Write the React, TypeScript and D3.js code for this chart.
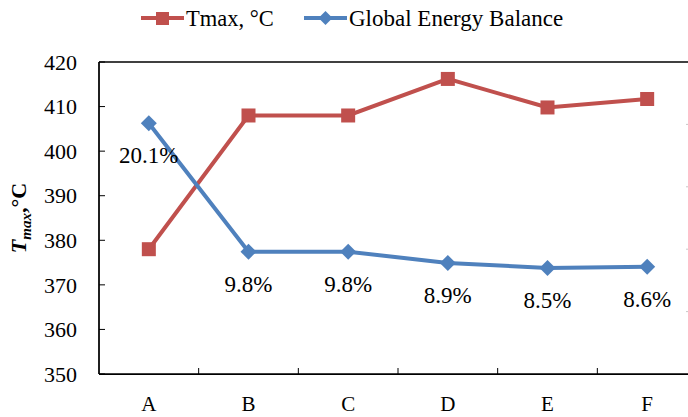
import React from "react";
import * as d3 from "d3";

// Cases and measured values
const categories = ["A", "B", "C", "D", "E", "F"];
const tmaxValues = [378, 408, 408, 416.2, 409.8, 411.7];
const energyBalance = [20.1, 9.8, 9.8, 8.9, 8.5, 8.6];
const energyLabels = ["20.1%", "9.8%", "9.8%", "8.9%", "8.5%", "8.6%"];
const leftTicks = [350, 360, 370, 380, 390, 400, 410, 420];
const rightTicks = [5, 10, 15, 20];

const W = 688;
const H = 417;
const margin = { left: 99, right: 697, top: 62, bottom: 374 };

const RED = "#C0504D";
const BLUE = "#4F81BD";
const FONT = "'Liberation Serif', 'Times New Roman', serif";

export default function App() {
  const x = d3
    .scaleBand<string>()
    .domain(categories)
    .range([margin.left, margin.right]);
  const cx = (c: string) => (x(c) as number) + x.bandwidth() / 2;
  const y = d3.scaleLinear().domain([350, 420]).range([margin.bottom, margin.top]);
  const y2 = d3.scaleLinear().domain([0, 25]).range([margin.bottom, margin.top]);

  const redLine = d3
    .line<number>()
    .x((_, i) => cx(categories[i]))
    .y((d) => y(d));
  const blueLine = d3
    .line<number>()
    .x((_, i) => cx(categories[i]))
    .y((d) => y2(d));

  const diamond = (px: number, py: number, r: number) =>
    `M${px},${py - r}L${px + r},${py}L${px},${py + r}L${px - r},${py}Z`;

  const boundaries = categories.slice(1).map((c) => x(c) as number);

  return (
    <svg
      width={W}
      height={H}
      style={{ position: "absolute", left: 0, top: 0, background: "#fff" }}
      fontFamily={FONT}
    >
      <rect width={W} height={H} fill="#fff" />

      {/* legend */}
      <g>
        <line x1={141} x2={184} y1={18} y2={18} stroke={RED} strokeWidth={4} />
        <rect x={156} y={12} width={13} height={13} fill={RED} />
        <text x={186} y={26} fontSize={22.5} fill="#000">
          Tmax, °C
        </text>
        <line x1={304} x2={347} y1={18} y2={18} stroke={BLUE} strokeWidth={4} />
        <path d={diamond(325.5, 18, 7)} fill={BLUE} />
        <text x={349} y={26} fontSize={23} fill="#000">
          Global Energy Balance
        </text>
      </g>

      {/* plot frame */}
      <line x1={margin.left} x2={margin.right} y1={margin.top} y2={margin.top} stroke="#000" strokeWidth={1.5} />
      <line x1={margin.left} x2={margin.right} y1={margin.bottom} y2={margin.bottom} stroke="#000" strokeWidth={1.75} />
      <line x1={margin.left} x2={margin.left} y1={margin.top} y2={margin.bottom} stroke="#000" strokeWidth={1.75} />

      {/* left axis ticks and labels */}
      {leftTicks.map((t) => (
        <g key={t}>
          <line x1={margin.left} x2={margin.left + 6} y1={y(t)} y2={y(t)} stroke="#000" strokeWidth={1} />
          <text x={77} y={y(t)} dy="0.35em" textAnchor="end" fontSize={22} fill="#000">
            {t}
          </text>
        </g>
      ))}

      {/* secondary axis marks at the right edge */}
      {rightTicks.map((t) => (
        <line key={t} x1={686} x2={688} y1={y2(t)} y2={y2(t)} stroke="#c8c8c8" strokeWidth={1} />
      ))}

      {/* category ticks and labels */}
      {boundaries.map((b, i) => (
        <line key={i} x1={b} x2={b} y1={margin.bottom} y2={margin.bottom - 6} stroke="#000" strokeWidth={1} />
      ))}
      {categories.map((c) => (
        <text key={c} x={cx(c)} y={411} textAnchor="middle" fontSize={21} fill="#000">
          {c}
        </text>
      ))}

      {/* y axis title */}
      <text transform="translate(26,218) rotate(-90)" textAnchor="middle" fontSize={22} fontWeight="bold" fill="#000">
        <tspan fontStyle="italic">T</tspan>
        <tspan fontStyle="italic" fontSize={15} dy={5}>max</tspan>
        <tspan dy={-5}>,°C</tspan>
      </text>

      {/* Tmax series */}
      <path d={redLine(tmaxValues) as string} fill="none" stroke={RED} strokeWidth={4} />
      {tmaxValues.map((v, i) => (
        <rect key={i} x={cx(categories[i]) - 7} y={y(v) - 7} width={14} height={14} fill={RED} />
      ))}

      {/* Global energy balance series */}
      <path d={blueLine(energyBalance) as string} fill="none" stroke={BLUE} strokeWidth={4} />
      {energyBalance.map((v, i) => (
        <path key={i} d={diamond(cx(categories[i]), y2(v), 8)} fill={BLUE} />
      ))}
      {energyBalance.map((v, i) => (
        <text key={i} x={cx(categories[i])} y={y2(v) + 40} textAnchor="middle" fontSize={23} fill="#000">
          {energyLabels[i]}
        </text>
      ))}
    </svg>
  );
}
